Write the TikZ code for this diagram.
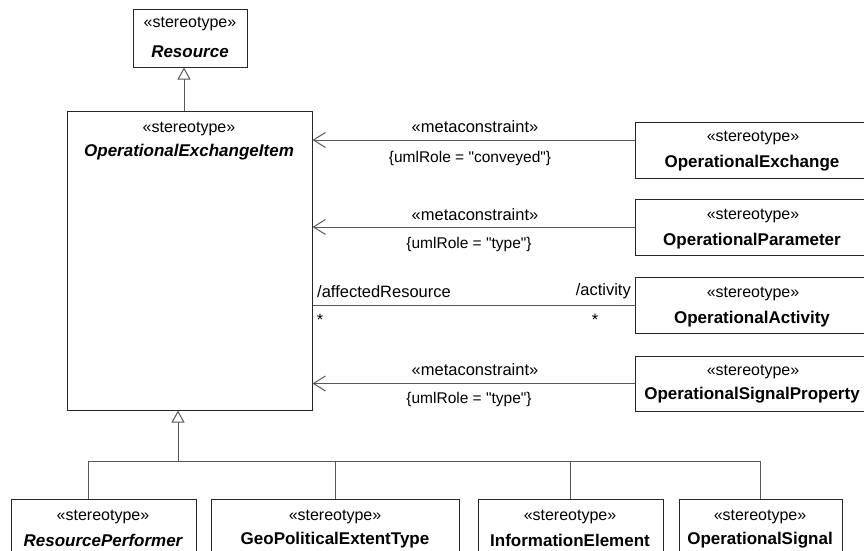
\documentclass[tikz,border=0pt]{standalone}
\usepackage{fontspec}
\setmainfont{Liberation Sans}
\newfontfamily\qfont{Liberation Sans}
\usetikzlibrary{arrows.meta}
\newcommand{\sq}{{\qfont"}}
\begin{document}
\begin{tikzpicture}[x=1pt,y=-1pt,
  box/.style={draw=black!85, line width=1pt, fill=white, rectangle, inner sep=0pt},
  txt/.style={inner sep=0pt, yshift=-1.5pt, font=\fontsize{16}{19}\selectfont},
  lbl/.style={inner sep=0pt, yshift=-1.5pt, font=\fontsize{16.5}{19}\selectfont},
  small/.style={inner sep=0pt, yshift=-1.5pt, font=\fontsize{15.5}{18}\selectfont},
  nm/.style={inner sep=0pt, yshift=-1.5pt, font=\fontsize{17}{20}\selectfont\bfseries},
  nmi/.style={inner sep=0pt, yshift=-1.5pt, font=\fontsize{17}{20}\selectfont\bfseries\itshape},
  conn/.style={draw=black!65, line width=1pt},
  meta/.style={conn, -{Straight Barb[length=12pt,width=15pt]}},
  gen/.style={conn, -{Triangle[open,length=12pt,width=13pt,fill=white]}}]
\useasboundingbox (0,0) rectangle (864,551);
\clip (0,0) rectangle (864,551);
\fill[white] (0,0) rectangle (864,551);

% boxes
\node[box, minimum width=114pt, minimum height=57pt] (res) at (190,38.5) {};
\node[txt] (resst) at (190,22) {«stereotype»};
\node[nmi] (resnm) at (190,50) {Resource};

\node[box, minimum width=245pt, minimum height=299pt] (oei) at (189.5,260.5) {};
\node[txt] (oeist) at (189,127) {«stereotype»};
\node[nmi] (oeinm) at (189,151) {OperationalExchangeItem};

\node[box, minimum width=245pt, minimum height=56pt] (opex) at (757.5,150) {};
\node[txt] (opexst) at (753,136) {«stereotype»};
\node[nm] (opexnm) at (752,162) {OperationalExchange};

\node[box, minimum width=245pt, minimum height=56pt] (oppar) at (757.5,227) {};
\node[txt] (opparst) at (753,214) {«stereotype»};
\node[nm] (opparnm) at (752,240) {OperationalParameter};

\node[box, minimum width=245pt, minimum height=56pt] (opact) at (757.5,305) {};
\node[txt] (opactst) at (753,292) {«stereotype»};
\node[nm] (opactnm) at (752,318) {OperationalActivity};

\node[box, minimum width=245pt, minimum height=55pt] (opsig) at (757.5,383.5) {};
\node[txt] (opsigst) at (753,370) {«stereotype»};
\node[nm] (opsignm) at (752,394) {OperationalSignalProperty};

\node[box, minimum width=185pt, minimum height=71pt] (b1) at (103.5,534.5) {};
\node[txt] (b1st) at (103,515) {«stereotype»};
\node[nmi] (b1nm) at (103,539) {ResourcePerformer};

\node[box, minimum width=248pt, minimum height=71pt] (b2) at (335,534.5) {};
\node[txt] (b2st) at (335,515) {«stereotype»};
\node[nm] (b2nm) at (335,539) {GeoPoliticalExtentType};

\node[box, minimum width=185pt, minimum height=71pt] (b3) at (570.5,534.5) {};
\node[txt] (b3st) at (570,515) {«stereotype»};
\node[nm] (b3nm) at (570,539) {InformationElement};

\node[box, minimum width=163pt, minimum height=71pt] (b4) at (760.5,534.5) {};
\node[txt] (b4st) at (760,515) {«stereotype»};
\node[nm] (b4nm) at (760,539) {OperationalSignal};

% metaconstraints
\coordinate (m1) at ([yshift=10pt]opex.west);
\draw[meta] (m1) -- (m1 -| oei.east);
\draw[meta] (oppar.west) -- (oppar.west -| oei.east);
\draw[meta] (opsig.west) -- (opsig.west -| oei.east);
\draw[conn] (opact.west) -- (opact.west -| oei.east);

\node[lbl] (mc1) at (475,125) {«metaconstraint»};
\node[small] (ur1) at (470,157) {\{umlRole = \sq conveyed\sq\}};
\node[lbl] (mc2) at (475,213) {«metaconstraint»};
\node[small] (ur2) at (469,243) {\{umlRole = \sq type\sq\}};
\node[lbl] (mc4) at (475,368) {«metaconstraint»};
\node[small] (ur4) at (469,398) {\{umlRole = \sq type\sq\}};

\node[lbl, anchor=west] (aff) at (317,290) {/affectedResource};
\node[lbl, anchor=east] (act) at (631,290) {/activity};
\node[lbl] (s1) at (320,318) {*};
\node[lbl] (s2) at (595,318) {*};

% generalizations
\coordinate (g1) at (184,111);
\draw[gen] (g1) -- (g1 |- res.south);

\coordinate (gb) at (178,461);
\draw[gen] (gb) -- (gb |- oei.south);
\coordinate (h1) at (88,461);
\coordinate (h4) at (760,461);
\draw[conn] (h1 |- b1.north) -- (h1) -- (h4) -- (h4 |- b4.north);
\draw[conn] (b2.north) -- (b2.north |- gb);
\draw[conn] (b3.north) -- (b3.north |- gb);
\end{tikzpicture}
\end{document}
